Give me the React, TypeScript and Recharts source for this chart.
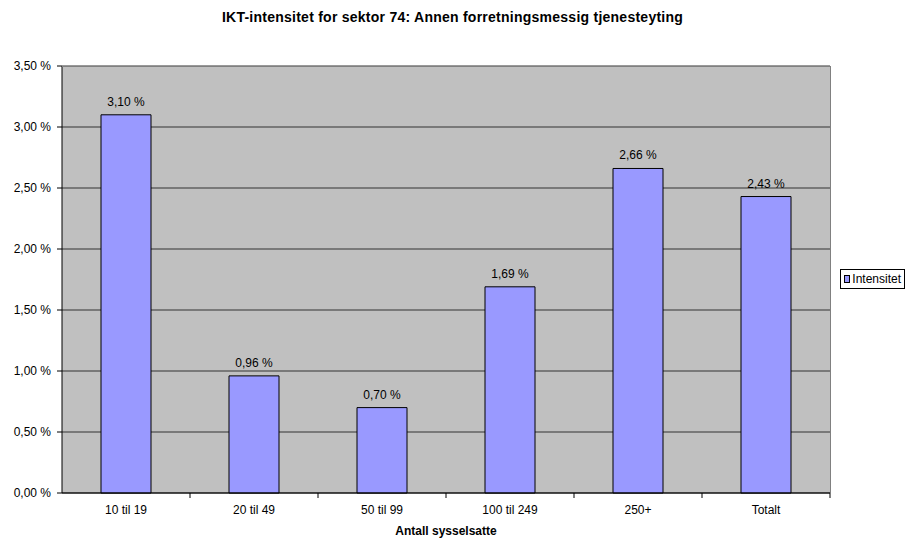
import React from 'react';
import { BarChart, Bar, XAxis, YAxis, CartesianGrid, LabelList } from 'recharts';

const categories = ['10 til 19', '20 til 49', '50 til 99', '100 til 249', '250+', 'Totalt'];
const intensitet = [3.1, 0.96, 0.7, 1.69, 2.66, 2.43];
const yTicks = [0, 0.5, 1, 1.5, 2, 2.5, 3, 3.5];

const data = categories.map((name, i) => ({ name, intensitet: intensitet[i] }));

const fmt = (v: number) => `${v.toFixed(2).replace('.', ',')} %`;

const FONT = '"Liberation Sans", Arial, sans-serif';

// tick label in the middle, tick mark on the right edge of each category
const XTick = (props: any) => {
  const { x, y, payload } = props;
  const half = payload && payload.offset ? payload.offset : 64;
  return (
    <g>
      <line x1={x + half} x2={x + half} y1={y - 8} y2={y - 3} stroke="#000" />
      <text x={x} y={y + 13} textAnchor="middle" fontSize={12} fill="#000" fontFamily={FONT}>
        {payload.value}
      </text>
    </g>
  );
};

export default function App() {
  return (
    <div style={{ position: 'absolute', left: 0, top: 0, width: 905, height: 538, background: '#fff', fontFamily: FONT }}>
      <div
        style={{
          position: 'absolute',
          top: 9,
          left: 0,
          width: 905,
          textAlign: 'center',
          fontSize: 14,
          letterSpacing: 0.25,
          fontWeight: 'bold',
        }}
      >
        IKT-intensitet for sektor 74: Annen forretningsmessig tjenesteyting
      </div>
      <BarChart
        width={905}
        height={538}
        data={data}
        margin={{ top: 66, right: 75, left: 0, bottom: 0 }}
        barCategoryGap={39}
      >
        <CartesianGrid vertical={false} stroke="#333" fill="#C0C0C0" />
        <XAxis
          dataKey="name"
          height={45}
          axisLine={{ stroke: '#000' }}
          tickLine={false}
          tick={<XTick />}
          interval={0}
        />
        <YAxis
          width={62}
          domain={[0, 3.5]}
          ticks={yTicks}
          tickFormatter={fmt}
          axisLine={{ stroke: '#000' }}
          tickLine={{ stroke: '#000' }}
          tickSize={5}
          tickMargin={6}
          tick={{ fontSize: 12, fill: '#000', fontFamily: FONT }}
        />
        <Bar dataKey="intensitet" name="Intensitet" fill="#9999FF" stroke="#000" isAnimationActive={false}>
          <LabelList
            dataKey="intensitet"
            position="top"
            offset={9}
            formatter={(v: any) => fmt(Number(v))}
            style={{ fontSize: 12, fill: '#000', fontFamily: FONT }}
          />
        </Bar>
      </BarChart>
      <div
        style={{
          position: 'absolute',
          left: 62,
          top: 66,
          width: 769,
          height: 427,
          borderTop: '1px solid #808080',
          borderRight: '1px solid #808080',
          boxSizing: 'border-box',
          pointerEvents: 'none',
        }}
      />
      <div
        style={{
          position: 'absolute',
          left: 840,
          top: 269,
          width: 65,
          height: 20,
          boxSizing: 'border-box',
          border: '1px solid #000',
          background: '#fff',
          padding: '0 3px',
          fontSize: 12,
          display: 'flex',
          alignItems: 'center',
        }}
      >
        <span
          style={{ display: 'inline-block', width: 6, height: 6, background: '#9999FF', border: '1px solid #000', marginRight: 2 }}
        />
        Intensitet
      </div>
      <div
        style={{
          position: 'absolute',
          top: 524,
          left: 62,
          width: 768,
          textAlign: 'center',
          fontSize: 12,
          fontWeight: 'bold',
        }}
      >
        Antall sysselsatte
      </div>
    </div>
  );
}
